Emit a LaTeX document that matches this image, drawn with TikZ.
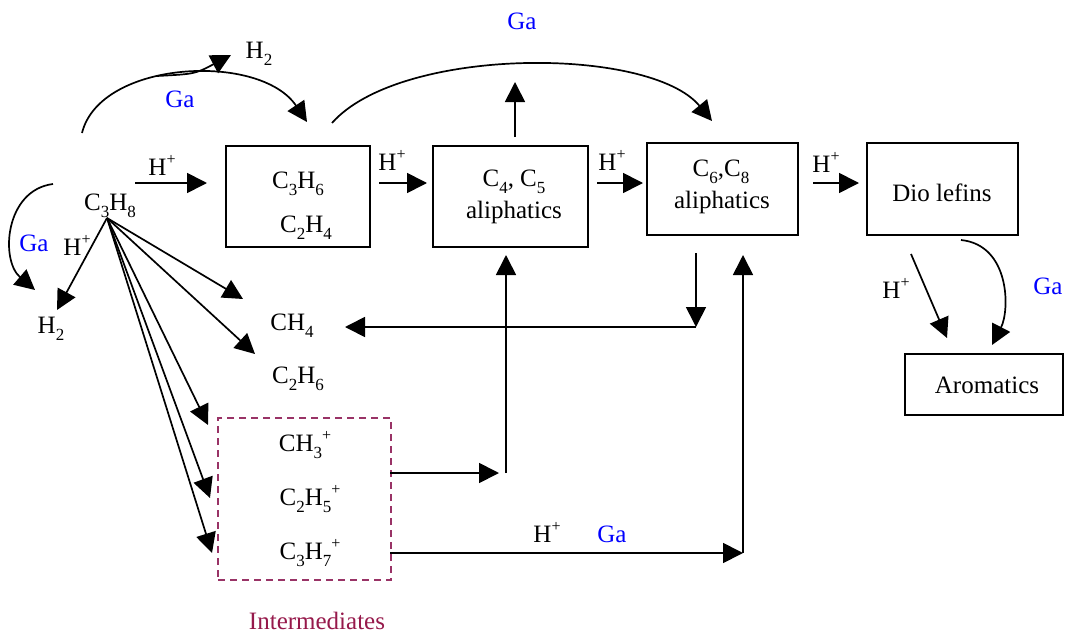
\documentclass[tikz,border=0pt]{standalone}
\usepackage{fontspec}
\setmainfont{Liberation Serif}
\usetikzlibrary{arrows.meta}
\definecolor{gablue}{RGB}{0,0,255}
\definecolor{intbox}{RGB}{153,51,102}
\definecolor{inttext}{RGB}{150,25,75}
\newcommand\sbs[1]{\raisebox{-0.28em}{\fontsize{17pt}{17pt}\selectfont #1}}
\newcommand\sps[1]{\raisebox{0.42em}{\fontsize{16pt}{16pt}\selectfont #1}}
\begin{document}
\begin{tikzpicture}[x=1pt,y=-1pt,
  txt/.style={font=\fontsize{25pt}{29pt}\selectfont, inner sep=0pt, anchor=base},
  ga/.style={txt, text=gablue},
  box/.style={draw, line width=1.7pt, inner sep=0pt},
  arr/.style={line width=1.7pt, -{Triangle[length=20pt,width=20pt]}},
  ln/.style={line width=1.7pt}]
\useasboundingbox (0,0) rectangle (1065,634);

% boxes
\node[box, minimum width=144pt, minimum height=101pt] (b1) at (298,196.5) {};
\node[box, minimum width=155pt, minimum height=101pt] (b2) at (510.5,196.5) {};
\node[box, minimum width=151pt, minimum height=92pt] (b3) at (722.5,189) {};
\node[box, minimum width=151pt, minimum height=92pt] (b4) at (942.5,189) {};
\node[box, minimum width=158pt, minimum height=61pt] (b5) at (984,384.5) {};
\node[draw=intbox, line width=1.7pt, dash pattern=on 7pt off 5pt, minimum width=173pt, minimum height=162pt, inner sep=0pt] (inter) at (304.5,499) {};

% texts
\node[txt] (c3h6) at (298,188) {C\sbs{3}H\sbs{6}};
\node[txt] (c2h4) at (306,232) {C\sbs{2}H\sbs{4}};
\node[txt] (c4c5) at (514,186) {C\sbs{4}, C\sbs{5}};
\node[txt] (ali1) at (514,218) {aliphatics};
\node[txt] (c6c8) at (721,176) {C\sbs{6},C\sbs{8}};
\node[txt] (ali2) at (722,208) {aliphatics};
\node[txt] (diol) at (942,201) {Dio lefins};
\node[txt] (arom) at (987,393) {Aromatics};
\node[txt] (c3h8) at (110,210) {C\sbs{3}H\sbs{8}};
\node[txt] (h2a) at (259,59) {H\sbs{2}};
\node[ga] (ga1) at (180,107) {Ga};
\node[txt] (hp1) at (162,175) {H\sps{+}};
\node[ga] (ga2) at (34,251) {Ga};
\node[txt] (hp2) at (77,255) {H\sps{+}};
\node[txt] (h2b) at (51,333) {H\sbs{2}};
\node[txt] (ch4) at (292,330) {CH\sbs{4}};
\node[txt] (c2h6) at (298,383) {C\sbs{2}H\sbs{6}};
\node[txt] (ch3p) at (305,451) {CH\sbs{3}\sps{+}};
\node[txt] (c2h5p) at (310,505) {C\sbs{2}H\sbs{5}\sps{+}};
\node[txt] (c3h7p) at (310,559) {C\sbs{3}H\sbs{7}\sps{+}};
\node[txt, text=inttext] (intl) at (317,629) {Intermediates};
\node[ga] (ga3) at (522,30) {Ga};
\node[txt] (hp3) at (392,170) {H\sps{+}};
\node[txt] (hp4) at (612,170) {H\sps{+}};
\node[txt] (hp5) at (826,172) {H\sps{+}};
\node[txt] (hp6) at (896,298) {H\sps{+}};
\node[ga] (ga4) at (1048,294) {Ga};
\node[txt] (hp7) at (547,542) {H\sps{+}};
\node[ga] (ga5) at (612,542) {Ga};

% coordinates
\coordinate (fan) at (107,218);
\coordinate (a1s) at (135,183); \coordinate (a1e) at (207,183);
\coordinate (a2s) at (379,183); \coordinate (a2e) at (427,183);
\coordinate (a3s) at (597,183); \coordinate (a3e) at (643,183);
\coordinate (a4s) at (813,183); \coordinate (a4e) at (859,183);
\coordinate (f1) at (57,310);
\coordinate (f2) at (243,299);
\coordinate (f3) at (255,354);
\coordinate (f4) at (208,425);
\coordinate (f5) at (210,498);
\coordinate (f6) at (212,553);
\coordinate (tgs) at (82,133); \coordinate (tge) at (307,122);
\coordinate (h2s) at (157,76); \coordinate (h2e) at (231,55);
\coordinate (bgs) at (332,123); \coordinate (bge) at (712,121);
\coordinate (ups) at (515,137); \coordinate (upe) at (515,82);
\coordinate (lgs) at (53,184); \coordinate (lge) at (35,290);
\coordinate (rgs) at (961,240); \coordinate (rge) at (992,345);
\coordinate (dhs) at (911,254); \coordinate (dhe) at (947,338);
\coordinate (dns) at (696,253); \coordinate (dne) at (696,327);
\coordinate (ch4e) at (345,327);
\coordinate (m1s) at (390,473); \coordinate (m1e) at (499,473);
\coordinate (v1s) at (506,473); \coordinate (v1e) at (506,255);
\coordinate (m2s) at (390,553); \coordinate (m2e) at (743,553);
\coordinate (v2e) at (743,255);

% horizontal H+ arrows
\draw[arr] (a1s) -- (a1e);
\draw[arr] (a2s) -- (a2e);
\draw[arr] (a3s) -- (a3e);
\draw[arr] (a4s) -- (a4e);

% fan
\draw[arr] (fan) -- (f1);
\draw[arr] (fan) -- (f2);
\draw[arr] (fan) -- (f3);
\draw[arr] (fan) -- (f4);
\draw[arr] (fan) -- (f5);
\draw[arr] (fan) -- (f6);

% curves
\draw[arr] (tgs) .. controls (100,60) and (260,52) .. (tge);
\draw[arr] (h2s) .. controls (195,74) .. (h2e);
\draw[arr] (bgs) .. controls (400,46) and (650,46) .. (bge);
\draw[arr] (ups) -- (upe);
\draw[arr] (lgs) .. controls (5,190) and (0,260) .. (lge);
\draw[arr] (rgs) .. controls (1010,245) and (1010,310) .. (rge);
\draw[arr] (dhs) -- (dhe);

% lower connectors
\draw[arr] (dns) -- (dne);
\draw[arr] (dne) -- (ch4e);
\draw[arr] (m1s) -- (m1e);
\draw[arr] (v1s) -- (v1e);
\draw[arr] (m2s) -- (m2e);
\draw[arr] (m2e) -- (v2e);
\end{tikzpicture}
\end{document}
